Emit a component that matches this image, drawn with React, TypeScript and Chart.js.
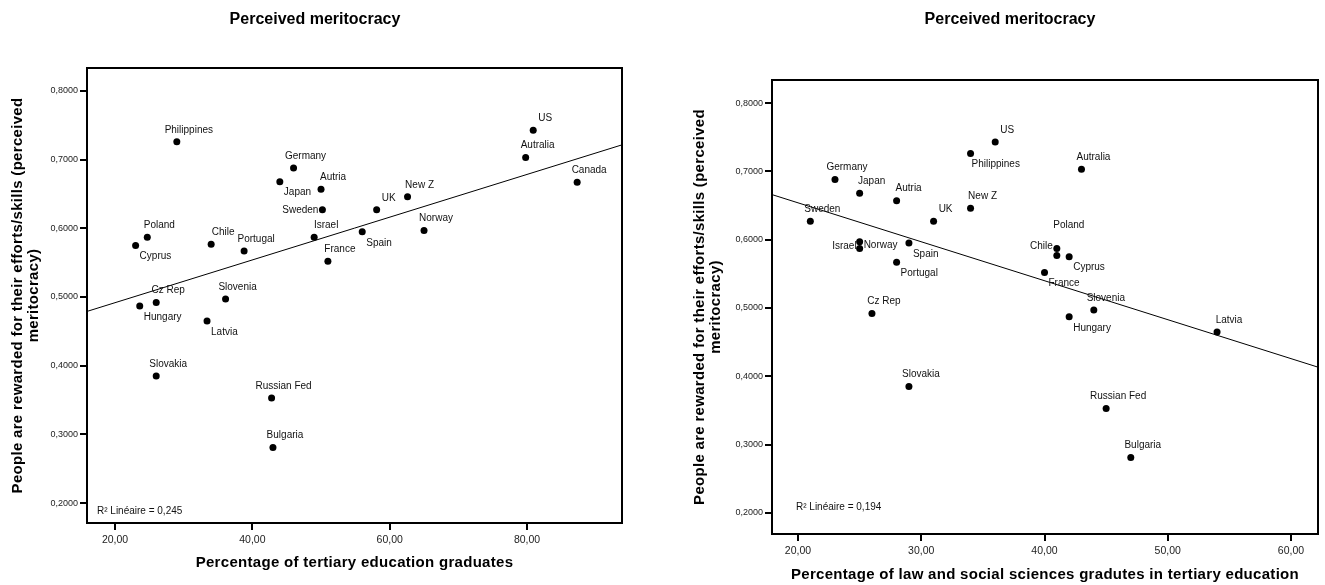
import React, { useEffect, useRef } from 'react';
import { Chart, registerables } from 'chart.js';

Chart.register(...registerables);

// ---------- Data ----------
const LEFT_COUNTRIES = ['US', 'Autralia', 'Canada', 'Philippines', 'Germany', 'Japan', 'Autria', 'New Z', 'UK', 'Sweden', 'Norway', 'Spain', 'Israel', 'Poland', 'Chile', 'Cyprus', 'Portugal', 'France', 'Slovenia', 'Cz Rep', 'Hungary', 'Latvia', 'Slovakia', 'Russian Fed', 'Bulgaria'];
const LEFT_TERTIARY = [80.9, 79.8, 87.3, 29.0, 46.0, 44.0, 50.0, 62.6, 58.1, 50.2, 65.0, 56.0, 49.0, 24.7, 34.0, 23.0, 38.8, 51.0, 36.1, 26.0, 23.6, 33.4, 26.0, 42.8, 43.0];
const LEFT_MERIT = [0.743, 0.703, 0.667, 0.726, 0.688, 0.668, 0.657, 0.646, 0.627, 0.627, 0.597, 0.595, 0.587, 0.587, 0.577, 0.575, 0.567, 0.552, 0.497, 0.492, 0.487, 0.465, 0.385, 0.353, 0.281];

const RIGHT_COUNTRIES = ['US', 'Autralia', 'Philippines', 'Germany', 'Japan', 'Autria', 'New Z', 'UK', 'Sweden', 'Norway', 'Spain', 'Israel', 'Poland', 'Chile', 'Cyprus', 'Portugal', 'France', 'Slovenia', 'Cz Rep', 'Hungary', 'Latvia', 'Slovakia', 'Russian Fed', 'Bulgaria'];
const RIGHT_LAWSOC = [36.0, 43.0, 34.0, 23.0, 25.0, 28.0, 34.0, 31.0, 21.0, 25.0, 29.0, 25.0, 41.0, 41.0, 42.0, 28.0, 40.0, 44.0, 26.0, 42.0, 54.0, 29.0, 45.0, 47.0];
const RIGHT_MERIT = [0.743, 0.703, 0.726, 0.688, 0.668, 0.657, 0.646, 0.627, 0.627, 0.597, 0.595, 0.587, 0.587, 0.577, 0.575, 0.567, 0.552, 0.497, 0.492, 0.487, 0.465, 0.385, 0.353, 0.281];

const Y_TICKS = [0.2, 0.3, 0.4, 0.5, 0.6, 0.7, 0.8];
const LEFT_X_TICKS = [20, 40, 60, 80];
const RIGHT_X_TICKS = [20, 30, 40, 50, 60];

const CHART_TITLE = 'Perceived meritocracy';
const Y_TITLE_LINES = ['People are rewarded for their efforts/skills (perceived', 'meritocracy)'];
const LEFT_X_TITLE = 'Percentage of tertiary education graduates';
const RIGHT_X_TITLE = 'Percentage of law and social sciences gradutes in tertiary education';
const LEFT_R2 = 'R\u00B2 Lin\u00E9aire = 0,245';
const RIGHT_R2 = 'R\u00B2 Lin\u00E9aire = 0,194';

// ---------- Label placements (layout only) ----------
type Place = [CanvasTextAlign, number, number];
const A: Place = ['center', 12, -12];
const B: Place = ['left', 4, 11];
const L: Place = ['right', -4, 0];
const LEFT_PLACE: Place[] = [A, A, A, A, A, B, A, A, A, L, A, B, A, A, A, B, A, A, A, A, B, B, A, A, A];
const RIGHT_PLACE: Place[] = [A, A, ['left', 1, 11], A, A, A, A, A, A, ['left', 4, 4], B, ['right', -3, -2], ['center', 12, -23], ['right', -4, -9], B, B, B, A, A, B, A, A, A, A];

const FONT = '"Liberation Sans", Arial, Helvetica, sans-serif';

function ols(xs: number[], ys: number[]) {
  const n = xs.length;
  const mx = xs.reduce((a, b) => a + b, 0) / n;
  const my = ys.reduce((a, b) => a + b, 0) / n;
  let sxy = 0, sxx = 0;
  for (let i = 0; i < n; i++) {
    sxy += (xs[i] - mx) * (ys[i] - my);
    sxx += (xs[i] - mx) * (xs[i] - mx);
  }
  const b = sxy / sxx;
  return { a: my - b * mx, b };
}

interface Spec {
  width: number;
  height: number;
  names: string[];
  xs: number[];
  ys: number[];
  place: Place[];
  xTicks: number[];
  xMin: number; xMax: number; yMin: number; yMax: number;
  yAxisWidth: number; xAxisHeight: number; padTop: number; padRight: number;
  titleX: number; titleY: number;
  yTitleX: number[];
  xTitle: string; xTitleY: number;
  r2: string; r2dx: number; r2dy: number;
}

function makePlugin(spec: Spec) {
  return {
    id: 'spssDecor',
    afterDraw(chart: any) {
      const ctx = chart.ctx as CanvasRenderingContext2D;
      const ca = chart.chartArea;
      ctx.save();
      // frame
      ctx.strokeStyle = '#000';
      ctx.lineWidth = 2;
      ctx.strokeRect(ca.left, ca.top, ca.right - ca.left, ca.bottom - ca.top);
      // point labels
      const meta = chart.getDatasetMeta(0);
      ctx.fillStyle = '#111';
      ctx.font = `10px ${FONT}`;
      ctx.textBaseline = 'middle';
      meta.data.forEach((el: any, i: number) => {
        const p = spec.place[i];
        ctx.textAlign = p[0];
        ctx.fillText(spec.names[i], el.x + p[1], el.y + p[2]);
      });
      // R2 text
      ctx.textAlign = 'left';
      ctx.fillText(spec.r2, ca.left + spec.r2dx, ca.bottom - spec.r2dy);
      // chart title
      ctx.fillStyle = '#000';
      ctx.font = `bold 16px ${FONT}`;
      ctx.textAlign = 'center';
      ctx.fillText(CHART_TITLE, spec.titleX, spec.titleY);
      // axis titles
      ctx.font = `bold 15px ${FONT}`;
      (ctx as any).letterSpacing = '0.3px';
      ctx.fillText(spec.xTitle, (ca.left + ca.right) / 2, spec.xTitleY);
      const cy = (ca.top + ca.bottom) / 2;
      Y_TITLE_LINES.forEach((line, i) => {
        ctx.save();
        ctx.translate(spec.yTitleX[i], cy);
        ctx.rotate(-Math.PI / 2);
        ctx.fillText(line, 0, 0);
        ctx.restore();
      });
      (ctx as any).letterSpacing = '0px';
      ctx.restore();
    },
  };
}

function makeConfig(spec: Spec): any {
  const pts = spec.xs.map((x, i) => ({ x, y: spec.ys[i] }));
  const fit = ols(spec.xs, spec.ys);
  const fitLine = [spec.xMin, spec.xMax].map((x) => ({ x, y: fit.a + fit.b * x }));
  const grid = { drawOnChartArea: false, drawTicks: true, tickLength: 7, lineWidth: 2, color: '#000' };
  return {
    type: 'scatter',
    data: {
      datasets: [
        { data: pts, pointRadius: 3.5, pointBorderWidth: 0, backgroundColor: '#000', borderColor: '#000' },
        { type: 'line', data: fitLine, borderColor: '#000', borderWidth: 1, pointRadius: 0, fill: false, showLine: true },
      ],
    },
    options: {
      animation: false,
      responsive: false,
      maintainAspectRatio: false,
      layout: { padding: { top: spec.padTop, right: spec.padRight, left: 0, bottom: 0 } },
      plugins: { legend: { display: false }, tooltip: { enabled: false }, title: { display: false } },
      scales: {
        x: {
          type: 'linear',
          min: spec.xMin,
          max: spec.xMax,
          afterBuildTicks: (s: any) => { s.ticks = spec.xTicks.map((v) => ({ value: v })); },
          afterFit: (s: any) => { s.height = spec.xAxisHeight; },
          grid,
          border: { display: false },
          ticks: { font: { family: FONT, size: 10.5 }, color: '#222', padding: 4, maxRotation: 0, callback: (v: number) => v.toFixed(2).replace('.', ',') },
        },
        y: {
          type: 'linear',
          min: spec.yMin,
          max: spec.yMax,
          afterBuildTicks: (s: any) => { s.ticks = Y_TICKS.map((v) => ({ value: v })); },
          afterFit: (s: any) => { s.width = spec.yAxisWidth; },
          grid,
          border: { display: false },
          ticks: { font: { family: FONT, size: 9 }, color: '#222', padding: 2, callback: (v: number) => v.toFixed(4).replace('.', ',') },
        },
      },
    },
    plugins: [makePlugin(spec)],
  };
}

const LEFT_SPEC: Spec = {
  width: 660, height: 585,
  names: LEFT_COUNTRIES, xs: LEFT_TERTIARY, ys: LEFT_MERIT, place: LEFT_PLACE,
  xTicks: LEFT_X_TICKS,
  xMin: 15.92, xMax: 93.83, yMin: 0.1709, yMax: 0.8335,
  yAxisWidth: 87, xAxisHeight: 62, padTop: 68, padRight: 38,
  titleX: 315, titleY: 20,
  yTitleX: [18, 34],
  xTitle: LEFT_X_TITLE, xTitleY: 563,
  r2: LEFT_R2, r2dx: 10, r2dy: 12,
};

const RIGHT_SPEC: Spec = {
  width: 665, height: 585,
  names: RIGHT_COUNTRIES, xs: RIGHT_LAWSOC, ys: RIGHT_MERIT, place: RIGHT_PLACE,
  xTicks: RIGHT_X_TICKS,
  xMin: 17.89, xMax: 62.19, yMin: 0.1692, yMax: 0.8337,
  yAxisWidth: 112, xAxisHeight: 51, padTop: 80, padRight: 7,
  titleX: 1010 - 660, titleY: 20,
  yTitleX: [700 - 660, 716 - 660],
  xTitle: RIGHT_X_TITLE, xTitleY: 575,
  r2: RIGHT_R2, r2dx: 24, r2dy: 27,
};

function ScatterCanvas({ spec, left }: { spec: Spec; left: number }) {
  const ref = useRef<HTMLCanvasElement | null>(null);
  useEffect(() => {
    if (!ref.current) return;
    const chart = new Chart(ref.current, makeConfig(spec));
    return () => chart.destroy();
  }, [spec]);
  return (
    <div style={{ position: 'absolute', left, top: 0, width: spec.width, height: spec.height }}>
      <canvas ref={ref} width={spec.width} height={spec.height} style={{ width: spec.width, height: spec.height, display: 'block' }} />
    </div>
  );
}

export default function App() {
  return (
    <div style={{ position: 'absolute', left: 0, top: 0, width: 1325, height: 585, background: '#fff', overflow: 'hidden' }}>
      <ScatterCanvas spec={LEFT_SPEC} left={0} />
      <ScatterCanvas spec={RIGHT_SPEC} left={660} />
    </div>
  );
}
